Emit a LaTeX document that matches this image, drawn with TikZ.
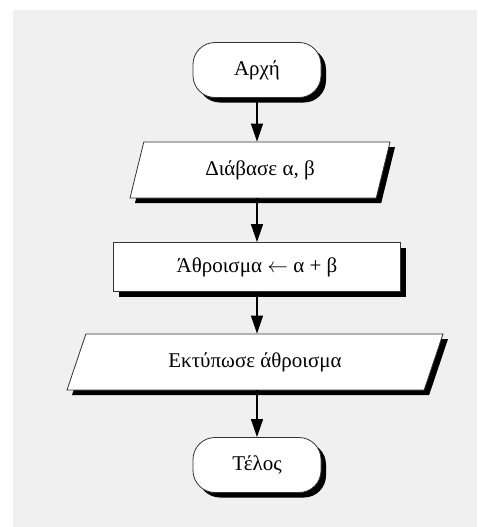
\documentclass[tikz,border=0pt]{standalone}
\usepackage{fontspec}
\setmainfont{Liberation Serif}
\usetikzlibrary{arrows.meta, shapes.geometric, shadows}

\tikzset{
  box/.style={draw=black!80, line width=0.8pt, fill=white,
    font=\fontsize{21}{24}\selectfont,
    general shadow={fill=black, shadow xshift=5pt, shadow yshift=-5pt}},
  terminal/.style={box, rectangle, rounded corners=22pt,
    minimum width=128pt, minimum height=55pt},
  process/.style={box, rectangle, minimum width=287pt, minimum height=49pt},
  io/.style={box, trapezium, trapezium stretches body, minimum height=56pt},
  flow/.style={-{Triangle[length=18pt,width=12pt]}, line width=1.2pt}
}

\begin{document}
\begin{tikzpicture}[x=1pt, y=-1pt]
        \useasboundingbox (0,0) rectangle (477,527);
        % background
        \fill[black!6] (13,10) rectangle (477,527);

        % steps of the flowchart
        \node[terminal] (start) at (257,70) {Αρχή};
        \node[io, trapezium left angle=62, trapezium right angle=118,
              minimum width=260pt] (read) at (260,170) {Διάβασε α, β};
        \node[process] (sum) at (257,267) {Άθροισμα $\leftarrow$ α + β};
        \node[io, trapezium left angle=54, trapezium right angle=126,
              minimum width=376pt] (print) at (255,362) {Εκτύπωσε άθροισμα};
        \node[terminal] (stop) at (257,465) {Τέλος};

        % arrows
        \draw[flow] (start.south) -- (start.south |- read.north);
        \draw[flow] (start.south |- read.south) -- (sum.north);
        \draw[flow] (sum.south) -- (sum.south |- print.north);
        \draw[flow] (sum.south |- print.south) -- (stop.north);
\end{tikzpicture}
\end{document}
